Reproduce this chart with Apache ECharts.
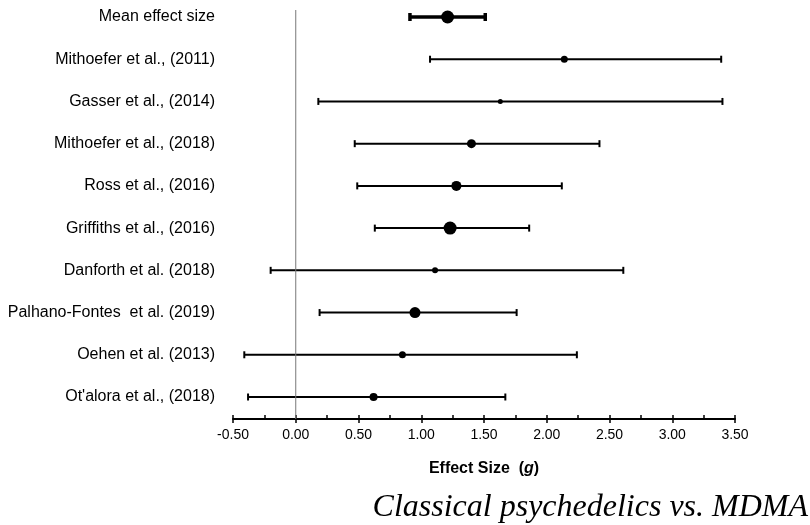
<!DOCTYPE html>
<html>
<head>
<meta charset="utf-8">
<script src="https://cdn.jsdelivr.net/npm/echarts@6/dist/echarts.min.js"></script>
<style>
  html, body { margin: 0; padding: 0; background: #fff; }
  #chart { width: 810px; height: 525px; }
</style>
</head>
<body>
<div id="chart"></div>
<script>
// studies, top to bottom
const studies = [
  'Mean effect size',
  'Mithoefer et al., (2011)',
  'Gasser et al., (2014)',
  'Mithoefer et al., (2018)',
  'Ross et al., (2016)',
  'Griffiths et al., (2016)',
  'Danforth et al. (2018)',
  'Palhano-Fontes  et al. (2019)',
  'Oehen et al. (2013)',
  "Ot'alora et al., (2018)"
]
const effect = [1.21, 2.14, 1.63, 1.40, 1.28, 1.23, 1.11, 0.95, 0.85, 0.62]
const ciLow  = [0.91, 1.07, 0.18, 0.47, 0.49, 0.63, -0.20, 0.19, -0.41, -0.38]
const ciHigh = [1.51, 3.39, 3.40, 2.42, 2.12, 1.86, 2.61, 1.76, 2.24, 1.67]
// relative study weight (marker diameter)
const weights = [13, 7, 5, 9, 10, 13, 6, 11, 7, 8]

const xMin = -0.5
const xMax = 3.5

const chart = echarts.init(document.getElementById('chart'))

const font = "'Liberation Sans', Arial, sans-serif"

const option = {
  animation: false,
  title: {
    text: 'Classical psychedelics vs. MDMA',
    right: 2,
    top: 492,
    padding: 0,
    textStyle: {
      fontFamily: "'Liberation Serif', 'Times New Roman', serif",
      fontStyle: 'italic',
      fontWeight: 'normal',
      fontSize: 32,
      color: '#000'
    }
  },
  grid: [
    { left: 233, right: 75, top: 17, height: 380 },
    { left: 233, right: 75, top: 10, bottom: 106 }
  ],
  xAxis: [
    { gridIndex: 0, type: 'value', min: xMin, max: xMax, show: false },
    {
      gridIndex: 1,
      type: 'value',
      min: xMin,
      max: xMax,
      interval: 0.25,
      splitLine: { show: false },
      axisLine: { lineStyle: { color: '#000', width: 2 } },
      axisTick: { inside: true, length: 4, lineStyle: { color: '#000', width: 1.5 } },
      axisLabel: {
        margin: 9,
        color: '#000',
        fontSize: 14,
        fontFamily: font,
        formatter: v => (Math.round(v * 100) % 50 === 0 ? v.toFixed(2) : '')
      },
      name: '{b|Effect Size  (}{i|g}{b|)}',
      nameLocation: 'middle',
      nameGap: 42,
      nameTextStyle: {
        rich: {
          b: { fontFamily: font, fontWeight: 'bold', fontSize: 16, color: '#000' },
          i: { fontFamily: font, fontWeight: 'bold', fontStyle: 'italic', fontSize: 16, color: '#000' }
        }
      }
    },
    {
      gridIndex: 1,
      type: 'value',
      min: xMin,
      max: xMax,
      interval: 0.5,
      position: 'bottom',
      splitLine: { show: false },
      axisLine: { show: false },
      axisLabel: { show: false },
      axisTick: { inside: false, length: 4, lineStyle: { color: '#000', width: 1.5 } }
    }
  ],
  yAxis: [
    {
      gridIndex: 0,
      type: 'category',
      data: studies,
      inverse: true,
      boundaryGap: false,
      axisLine: { show: false },
      axisTick: { show: false },
      splitLine: { show: false },
      axisLabel: { margin: 18, color: '#000', fontSize: 16, fontFamily: font }
    },
    { gridIndex: 1, type: 'value', min: 0, max: 1, show: false }
  ],
  series: [
    {
      // line of no effect
      type: 'line',
      xAxisIndex: 1,
      yAxisIndex: 1,
      data: [[0, 0], [0, 1]],
      symbol: 'none',
      silent: true,
      lineStyle: { color: '#777', width: 1 }
    },
    {
      type: 'custom',
      xAxisIndex: 0,
      yAxisIndex: 0,
      data: studies.map((s, i) => [ciLow[i], ciHigh[i], i]),
      encode: { x: [0, 1], y: 2 },
      renderItem: (params, api) => {
        const row = api.value(2)
        const p0 = api.coord([api.value(0), row])
        const p1 = api.coord([api.value(1), row])
        const isMean = row === 0
        const w = isMean ? 3.5 : 2
        const cap = isMean ? 4 : 3.5
        const style = { stroke: '#000', lineWidth: w }
        return {
          type: 'group',
          children: [
            { type: 'line', shape: { x1: p0[0], y1: p0[1], x2: p1[0], y2: p1[1] }, style },
            { type: 'line', shape: { x1: p0[0], y1: p0[1] - cap, x2: p0[0], y2: p0[1] + cap }, style },
            { type: 'line', shape: { x1: p1[0], y1: p1[1] - cap, x2: p1[0], y2: p1[1] + cap }, style }
          ]
        }
      }
    },
    {
      type: 'scatter',
      xAxisIndex: 0,
      yAxisIndex: 0,
      data: effect.map((v, i) => ({ value: [v, i], symbolSize: weights[i] })),
      itemStyle: { color: '#000', opacity: 1 },
      z: 5
    }
  ]
}

chart.setOption(option)
</script>
</body>
</html>
